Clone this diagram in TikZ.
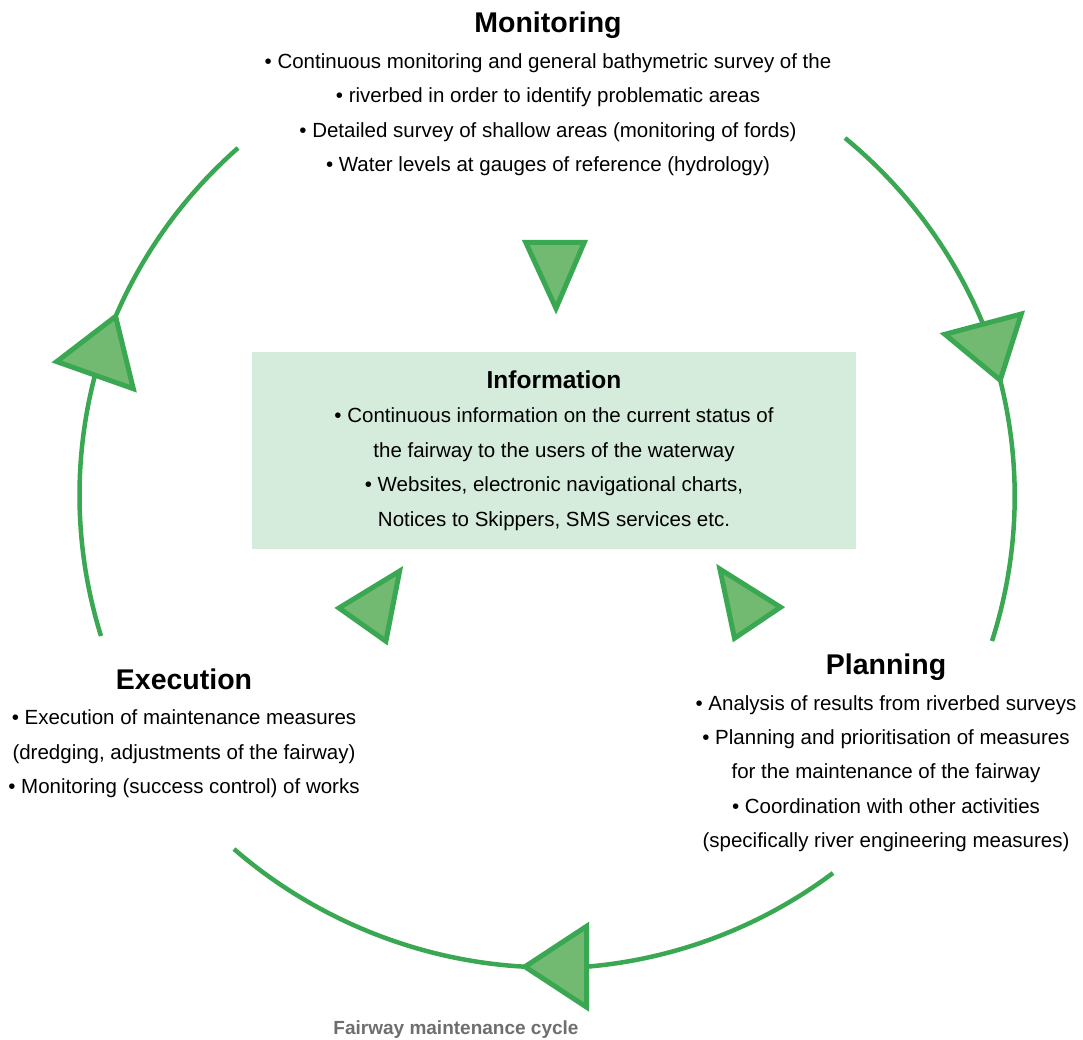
\documentclass[tikz,border=0pt]{standalone}
\usepackage{fontspec}
\setmainfont{Liberation Sans}
\usepackage{xcolor}
\usepackage{tikz}
\usetikzlibrary{calc}
\definecolor{cyclegreen}{RGB}{58,168,82}
\definecolor{trigreen}{RGB}{114,186,114}
\definecolor{boxgreen}{RGB}{213,236,220}
\definecolor{capgray}{RGB}{110,110,110}
\newcommand{\Head}[1]{{\fontsize{28.5}{34.3}\selectfont\bfseries #1}}

\begin{document}
\begin{tikzpicture}[
			x=1pt, y=-1pt,
			block/.style={align=center, inner sep=0pt, anchor=base, font=\fontsize{20.5}{34.3}\selectfont},
			infobox/.style={rectangle, fill=boxgreen, minimum width=604pt, minimum height=197pt, align=center, inner sep=0pt, font=\fontsize{20.5}{34.6}\selectfont},
			cycleline/.style={draw=cyclegreen, line width=4.5pt},
			headtri/.style={draw=cyclegreen, fill=trigreen, line width=5pt, line join=miter},
			caption/.style={anchor=base, inner sep=0pt, text=capgray, font=\fontsize{19}{20}\selectfont\bfseries}
			]
			\useasboundingbox (0,0) rectangle (1083,1040);
			
			% Information box
			\node[infobox] (info) at (554,450.5) {
				{\fontsize{24.5}{34.6}\selectfont\bfseries Information}\\
				• Continuous information on the current status of\\
				the fairway to the users of the waterway\\
				• Websites, electronic navigational charts,\\
				Notices to Skippers, SMS services etc.
			};
			
			% Stages of the cycle (anchored at the last line)
			\node[block] (monitoring) at (548,171.5) {
				\Head{Monitoring}\\[1.5pt]
				• Continuous monitoring and general bathymetric survey of the\\
				• riverbed in order to identify problematic areas\\
				• Detailed survey of shallow areas (monitoring of fords)\\
				• Water levels at gauges of reference (hydrology)
			};
			\node[block] (planning) at (886,847.5) {
				\Head{Planning}\\[1.5pt]
				• Analysis of results from riverbed surveys\\
				• Planning and prioritisation of measures\\
				for the maintenance of the fairway\\
				• Coordination with other activities\\
				(specifically river engineering measures)
			};
			\node[block] (execution) at (184,793.5) {
				\Head{Execution}\\[1.5pt]
				• Execution of maintenance measures\\
				(dredging, adjustments of the fairway)\\
				• Monitoring (success control) of works
			};
			\node[caption] (cycle) at (456,1034) {Fairway maintenance cycle};
			
			% Ends of the arcs
			\coordinate (monR) at (845,138);
			\coordinate (plaT) at (992,641);
			\coordinate (plaB) at (833,873);
			\coordinate (exeB) at (234,849);
			\coordinate (exeT) at (101,636);
			\coordinate (monL) at (238,148);
			
			% Corners of the big arrow heads
			\coordinate (rA) at (944.9,334.3);
			\coordinate (rB) at (1021.3,314.0);
			\coordinate (rTip) at (1000.2,380.2);
			\coordinate (rBase) at ($(rA)!0.5!(rB)$);
			\coordinate (bA) at (586.7,926.2);
			\coordinate (bB) at (586.7,1007.2);
			\coordinate (bTip) at (525,966.7);
			\coordinate (bBase) at ($(bA)!0.5!(bB)$);
			\coordinate (lA) at (133.3,388.7);
			\coordinate (lB) at (56.7,361.6);
			\coordinate (lTip) at (115.6,316.4);
			\coordinate (lBase) at ($(lA)!0.5!(lB)$);
			
			% The cycle
			\draw[cycleline] (monR) to[bend left=14, looseness=0.87] (rBase);
			\draw[cycleline] (rTip) to[bend left=16, looseness=0.87] (plaT);
			\draw[cycleline] (plaB) to[bend left=16, looseness=0.87] (bBase);
			\draw[cycleline] (bTip) to[bend left=19, looseness=0.87] (exeB);
			\draw[cycleline] (exeT) to[bend left=16, looseness=0.87] (lBase);
			\draw[cycleline] (lTip) to[bend left=12.6, looseness=0.87] (monL);
			
			\filldraw[headtri] (rA) -- (rB) -- (rTip) -- cycle;
			\filldraw[headtri] (bA) -- (bB) -- (bTip) -- cycle;
			\filldraw[headtri] (lA) -- (lB) -- (lTip) -- cycle;
			
			% Arrows towards the information box
			\filldraw[headtri] (525.7,242.3) -- (584.3,242.3) -- (556,308.3) -- cycle;
			\filldraw[headtri] (399.6,571.1) -- (385.9,641.2) -- (339,608) -- cycle;
			\filldraw[headtri] (719.9,569.1) -- (734.5,638.2) -- (780.5,607.2) -- cycle;
			
		\end{tikzpicture}
\end{document}
